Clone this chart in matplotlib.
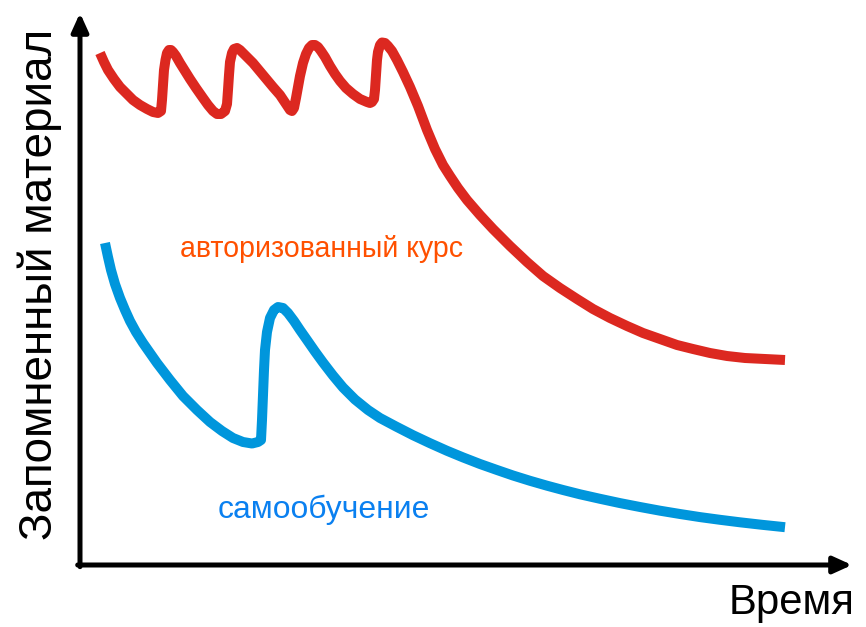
import matplotlib
matplotlib.use("Agg")
import matplotlib.pyplot as plt

# time / memory values
course_t = [20, 24, 28, 34, 40, 47, 53, 60, 67, 73, 78, 81,
            82, 83, 84, 85.5, 87, 89, 91, 93, 96,
            100, 105, 110, 116, 123, 128, 133, 137, 141, 145,
            147, 148, 149, 150, 152, 154, 157, 160,
            166, 173, 183, 193, 200, 206, 210, 212, 214,
            216, 218, 220, 223, 226, 229, 232, 235, 238, 241,
            245, 250, 255, 260, 266, 273, 280, 287, 290, 292, 294,
            295, 296, 297, 298, 300, 302, 305, 308, 312,
            317, 323, 330, 338, 347, 355, 363, 370, 378, 387, 400, 413, 430, 447,
            463, 480, 497, 513, 530, 547, 563, 580, 597, 613, 630, 647, 665, 685, 705]
course_m = [512, 503, 495, 486, 478, 471, 465, 460, 456, 453, 452, 454,
            465, 480, 495, 505, 512, 515, 515, 513, 509,
            502, 494, 486, 477, 467, 460, 454, 451, 451, 454,
            461, 475, 490, 503, 512, 516, 517, 515,
            509, 502, 490, 478, 470, 461, 455, 454, 457,
            467, 478, 489, 502, 511, 517, 520, 520, 518, 514,
            508, 499, 491, 484, 477, 471, 466, 463, 462, 463, 466,
            475, 490, 505, 513, 520, 522.5, 522, 519, 514,
            505, 493, 478, 459, 435, 416, 400, 389, 377, 365, 350, 336, 319, 303,
            289, 277, 266, 256, 247, 239, 232, 226, 220, 216, 212, 209, 207, 206, 205]

self_t = [25, 28, 31, 35, 40, 45, 50, 56, 63, 70, 77, 90, 103, 117, 130, 142, 153,
          163, 172, 178, 181, 182, 183, 184, 185, 187, 190, 194, 198, 203, 208, 214,
          220, 227, 235, 243, 253, 263, 275, 288, 300, 316, 333, 350, 367, 383, 400,
          417, 433, 450, 467, 483, 500, 520, 540, 560, 580, 600, 620, 640, 660, 682, 705]
self_m = [322, 308, 295, 281, 267, 255, 244, 233, 222, 212, 202, 185, 169, 155, 143, 134, 127,
          123, 121.5, 123, 125, 145, 170, 195, 215, 233, 247, 255, 258, 257, 252, 244,
          235, 225, 213.5, 202.5, 189.5, 177.5, 165.5, 155, 147, 138.5, 129.8, 121.8, 114.2, 107.6, 101,
          95, 89.5, 84.2, 79.3, 75, 70.7, 66.2, 61.9, 58, 54.3, 51, 47.9, 45.2, 42.7, 40.2, 37.8]

fam = ["Liberation Sans", "DejaVu Sans"]

fig = plt.figure(figsize=(8.66, 6.27), dpi=100)
ax = fig.add_axes([80 / 866, 62 / 627, 772 / 866, 552 / 627])
ax.set_xlim(0, 772)
ax.set_ylim(0, 552)
ax.axis("off")

ax.plot(course_t, course_m, color="#dc2820", lw=7.2, solid_capstyle="butt", solid_joinstyle="round")
ax.plot(self_t, self_m, color="#0096dc", lw=7.2, solid_capstyle="butt", solid_joinstyle="round")

arrow = dict(arrowstyle="-|>,head_length=1.1,head_width=0.5", lw=3.6, color="black",
             shrinkA=0, shrinkB=0)
ax.annotate("", xy=(0, 1), xytext=(0, -0.003), xycoords="axes fraction", arrowprops=arrow)
ax.annotate("", xy=(1, 0), xytext=(-0.003, 0), xycoords="axes fraction", arrowprops=arrow)

t1 = ax.text(100, 308, "авторизованный курс", color="#ff5000", fontsize=24, family=fam)
t2 = ax.text(138, 47, "самообучение", color="#0a80f0", fontsize=24, family=fam)
t3 = fig.text(729 / 866, 1 - 614 / 627, "Время", fontsize=28, family=fam,
              ha="left", va="baseline")
t4 = fig.text(52 / 866, 1 - 540 / 627, "Запомненный материал", fontsize=28, family=fam,
              rotation=90, ha="left", va="baseline", rotation_mode="anchor")

# the original uses a narrow face; shrink each text to the width it takes there
fig.canvas.draw()
r = fig.canvas.get_renderer()
for t, w, vert in [(t1, 283, False), (t2, 212, False), (t3, 126, False), (t4, 512, True)]:
    bb = t.get_window_extent(r)
    cur = bb.height if vert else bb.width
    t.set_fontsize(t.get_fontsize() * w / cur)

fig.savefig("out.png", dpi=100)
